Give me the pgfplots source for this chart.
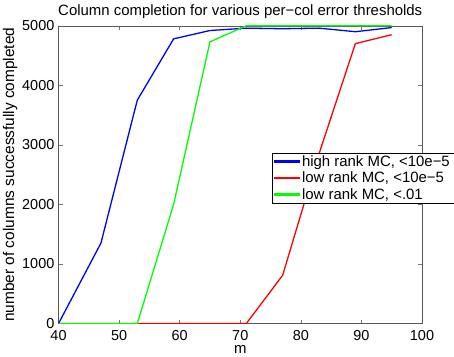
\documentclass[border=0pt]{standalone}
\usepackage{fontspec}
\setmainfont{Liberation Sans}
\usepackage{pgfplots}
\pgfplotsset{compat=1.18}

\begin{document}
\begin{tikzpicture}
\begin{axis}[
    scale only axis,
    width=365pt, height=299pt,
    xmin=40, xmax=100,
    ymin=0, ymax=5000,
    xtick={40,50,...,100},
    ytick={0,1000,...,5000},
    tick align=inside,
    major tick length=4pt,
    tick style={black!55, thin},
    axis line style={black!65, thin},
    /pgf/number format/assume math mode=true,
    /pgf/number format/set thousands separator={},
    ticklabel style={font=\fontsize{14.5}{16}\selectfont, inner sep=0pt},
    xticklabel style={anchor=north, yshift=-7pt},
    yticklabel style={anchor=east, xshift=-4pt},
    every axis title shift=0pt,
    title={Column completion for various per−col error thresholds},
    title style={font=\fontsize{15}{17}\selectfont, inner xsep=0pt, inner ysep=5pt,
        at={(axis description cs:0.5,1)}, anchor=base, yshift=10pt},
    xlabel={m},
    xlabel style={font=\fontsize{15}{17}\selectfont, inner sep=3pt,
        at={(axis description cs:0.5,0)}, anchor=base, yshift=-30pt},
    ylabel={number of columns successfully completed},
    ylabel style={font=\fontsize{15.5}{18}\selectfont, inner sep=3pt,
        at={(axis description cs:-0.133,0.5)}, anchor=center},
    legend style={at={(0.5863,0.5719)}, anchor=north west,
        font=\fontsize{15}{18}\selectfont,
        inner xsep=2pt, inner ysep=0pt, row sep=0pt,
        cells={inner xsep=1pt, inner ysep=2.75pt, text height=11pt, text depth=3.5pt}},
    legend cell align=left,
]
\addplot[draw=blue, line width=1.3pt,
    legend image code/.code={\fill[fill=blue] (0pt,-0.65pt) rectangle (25pt,0.65pt);}]
coordinates {
(40,0) (47,1350) (53,3750) (59,4780) (65,4920) (71,4960) (77,4950) (83,4960) (89,4900) (95,4970)};
\addlegendentry{high rank MC, <10e−5}
\addplot[draw=red, line width=1.3pt,
    legend image code/.code={\fill[fill=red] (0pt,-0.65pt) rectangle (25pt,0.65pt);}]
coordinates {
(40,0) (47,0) (53,0) (59,0) (65,0) (71,0) (77,810) (83,2850) (89,4700) (95,4850)};
\addlegendentry{low rank MC, <10e−5}
\addplot[draw=green, line width=1.3pt,
    legend image code/.code={\fill[fill=green] (0pt,-0.65pt) rectangle (25pt,0.65pt);}]
coordinates {
(40,0) (47,0) (53,0) (59,2000) (65,4730) (71,5000) (77,5000) (83,5000) (89,5000) (95,5000)};
\addlegendentry{low rank MC, <.01}
\end{axis}
\end{tikzpicture}
\end{document}
